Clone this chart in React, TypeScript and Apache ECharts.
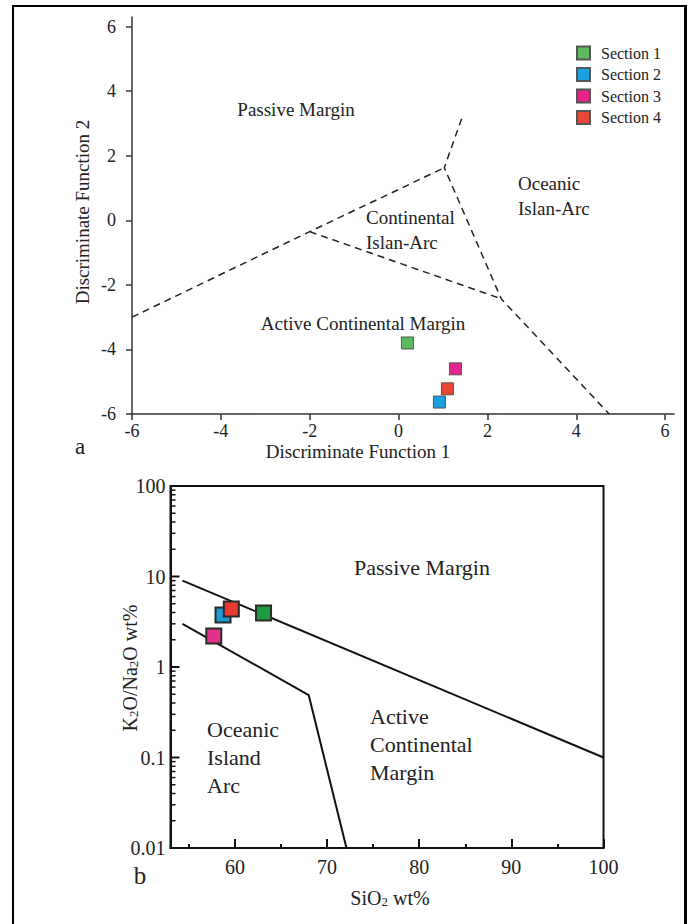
import React, { useEffect, useRef } from 'react';
import * as echarts from 'echarts';

const sections = ['Section 1', 'Section 2', 'Section 3', 'Section 4'];
const topColors = ['#5fb95f', '#1ba0e2', '#e3258d', '#e84637'];
const bottomColors = ['#1e9a3f', '#1b9bd8', '#e2338a', '#e83a30'];

// Panel a: discriminant function scores [DF1, DF2] per section
const dfPoints = [[0.2, -3.8], [0.92, -5.63], [1.28, -4.6], [1.1, -5.22]];
// Panel b: [SiO2 wt%, K2O/Na2O] per section
const sioPoints = [[63.1, 3.95], [58.7, 3.76], [57.7, 2.2], [59.6, 4.37]];

// Panel a field boundaries (dashed)
const dfBoundaryA = [[-6, -3], [-2, -0.35], [1.03, 1.63]];
const dfBoundaryB = [[1.42, 3.15], [1.03, 1.63], [2.31, -2.43], [4.74, -6]];
const dfBoundaryC = [[-2, -0.35], [2.31, -2.43]];

// Panel b field boundaries (solid)
const sioBoundaryUpper = [[54.3, 9], [100, 0.1]];
const sioBoundaryLower = [[54.3, 3], [68, 0.49], [72.1, 0.01]];

const dfTicks = [-6, -4, -2, 0, 2, 4, 6];
const sioMajorTicks = [60, 70, 80, 90, 100];
const sioMinorTicks = [55, 65, 75, 85, 95];
const ratioMajorTicks = [0.01, 0.1, 1, 10, 100];
const ratioMinorTicks = [
  0.02, 0.03, 0.04, 0.05, 0.06, 0.07, 0.08, 0.09,
  0.2, 0.3, 0.4, 0.5, 0.6, 0.7, 0.8, 0.9,
  2, 3, 4, 5, 6, 7, 8, 9,
  20, 30, 40, 50, 60, 70, 80, 90,
];

const SIO_MIN = 53;
const SIO_MAX = 100;
const FONT = 'Liberation Serif';
const INK = '#222';

function txt(text: string, x: number, y: number, size: number, align = 'center', vAlign = 'middle', lineHeight?: number, extra: any = {}) {
  return {
    type: 'text',
    x,
    y,
    silent: true,
    ...extra,
    style: {
      text,
      fontSize: size,
      fontFamily: FONT,
      fill: INK,
      align,
      verticalAlign: vAlign,
      lineHeight: lineHeight || size * 1.2,
    },
  };
}

export default function App() {
  const ref = useRef<HTMLDivElement>(null);

  useEffect(() => {
    if (!ref.current) return;
    const chart = echarts.init(ref.current, undefined, { renderer: 'svg' });

    const axisLineStyle = { color: '#333', width: 1.5 };
    const boxLine = { color: '#111', width: 2 };

    const series: any[] = [];
    [dfBoundaryA, dfBoundaryB, dfBoundaryC].forEach((d, i) => {
      series.push({
        type: 'line',
        name: 'boundary-a-' + i,
        xAxisIndex: 0,
        yAxisIndex: 0,
        data: d,
        symbol: 'none',
        silent: true,
        z: 2,
        lineStyle: { color: '#222', width: 1.5, type: [7, 5] },
      });
    });
    sections.forEach((name, i) => {
      series.push({
        type: 'scatter',
        name,
        xAxisIndex: 0,
        yAxisIndex: 0,
        data: [dfPoints[i]],
        symbol: 'rect',
        symbolSize: 12,
        z: 4,
        itemStyle: { color: topColors[i], borderColor: '#555', borderWidth: 1, opacity: 1 },
      });
    });
    [sioBoundaryUpper, sioBoundaryLower].forEach((d, i) => {
      series.push({
        type: 'line',
        name: 'boundary-b-' + i,
        xAxisIndex: 1,
        yAxisIndex: 1,
        data: d,
        symbol: 'none',
        silent: true,
        z: 2,
        lineStyle: { color: '#111', width: 2 },
      });
    });

    // tick marks for the log axis of panel b, placed through the axis scale
    const yTickData = [
      ...ratioMajorTicks.map((v) => [SIO_MIN, v, 9]),
      ...ratioMinorTicks.map((v) => [SIO_MIN, v, 5]),
    ];
    series.push({
      type: 'custom',
      name: 'ratio-ticks',
      xAxisIndex: 1,
      yAxisIndex: 1,
      silent: true,
      z: 3,
      clip: false,
      data: yTickData,
      renderItem: (params: any, api: any) => {
        const p = api.coord([api.value(0), api.value(1)]);
        const len = api.value(2);
        return {
          type: 'line',
          shape: { x1: p[0], y1: p[1], x2: p[0] + len, y2: p[1] },
          style: { stroke: '#111', lineWidth: len > 6 ? 2 : 1.5 },
        };
      },
    });

    sections.forEach((name, i) => {
      series.push({
        type: 'scatter',
        name,
        xAxisIndex: 1,
        yAxisIndex: 1,
        data: [sioPoints[i]],
        symbol: 'rect',
        symbolSize: 15,
        z: 4,
        itemStyle: { color: bottomColors[i], borderColor: '#2a2a2a', borderWidth: 2, opacity: 1 },
      });
    });

    const option: any = {
      animation: false,
      backgroundColor: '#ffffff',
      textStyle: { fontFamily: FONT, color: INK },
      legend: {
        data: sections,
        orient: 'vertical',
        left: 571,
        top: 40,
        icon: 'rect',
        itemWidth: 13,
        itemHeight: 13,
        itemGap: 5.5,
        selectedMode: false,
        textStyle: { fontSize: 16, lineHeight: 16, color: INK, fontFamily: FONT, padding: [0, 0, 0, 6] },
      },
      grid: [
        { left: 132, top: 17, width: 542, height: 397 },
        { left: 170.5, top: 486, width: 433, height: 362, show: true, borderColor: '#111', borderWidth: 2, backgroundColor: 'transparent' },
      ],
      xAxis: [
        {
          gridIndex: 0, type: 'value', min: -6, max: 6.2, position: 'bottom',
          axisLine: { show: true, onZero: false, lineStyle: axisLineStyle },
          axisTick: { show: true, inside: false, length: 6, customValues: dfTicks, lineStyle: axisLineStyle },
          axisLabel: { customValues: dfTicks, margin: 8, fontSize: 18, color: INK, fontFamily: FONT },
          splitLine: { show: false },
        },
        {
          gridIndex: 1, type: 'value', min: SIO_MIN, max: SIO_MAX, position: 'bottom',
          axisLine: { show: true, onZero: false, lineStyle: boxLine },
          axisTick: { show: true, inside: true, length: 9, customValues: sioMajorTicks, lineStyle: boxLine },
          axisLabel: { customValues: sioMajorTicks, margin: 9, fontSize: 20, color: INK, fontFamily: FONT },
          splitLine: { show: false },
        },
        {
          gridIndex: 1, type: 'value', min: SIO_MIN, max: SIO_MAX, position: 'bottom',
          axisLine: { show: false, onZero: false },
          axisTick: { show: true, inside: true, length: 4, customValues: sioMinorTicks, lineStyle: boxLine },
          axisLabel: { show: false },
          splitLine: { show: false },
        },
      ],
      yAxis: [
        {
          gridIndex: 0, type: 'value', min: -6, max: 6.3, position: 'left',
          axisLine: { show: true, onZero: false, lineStyle: axisLineStyle },
          axisTick: { show: true, inside: false, length: 6, customValues: dfTicks, lineStyle: axisLineStyle },
          axisLabel: { customValues: dfTicks, margin: 16, fontSize: 18, color: INK, fontFamily: FONT },
          splitLine: { show: false },
        },
        {
          gridIndex: 1, type: 'log', logBase: 10, min: 0.01, max: 100, position: 'left',
          axisLine: { show: true, onZero: false, lineStyle: boxLine },
          axisTick: { show: false },
          axisLabel: { margin: 5, fontSize: 20, color: INK, fontFamily: FONT },
          splitLine: { show: false },
          minorTick: { show: false },
        },
      ],
      series,
      graphic: [
        // frame
        { type: 'line', silent: true, shape: { x1: 13, y1: 6, x2: 13, y2: 924 }, style: { stroke: '#000', lineWidth: 2 } },
        { type: 'line', silent: true, shape: { x1: 12, y1: 6, x2: 687, y2: 6 }, style: { stroke: '#000', lineWidth: 2 } },
        { type: 'line', silent: true, shape: { x1: 685.5, y1: 5, x2: 685.5, y2: 924 }, style: { stroke: '#000', lineWidth: 3 } },
        // panel a
        txt('Passive Margin', 296, 109, 19),
        txt('Continental\nIslan-Arc', 366, 204.5, 19, 'left', 'top', 25),
        txt('Oceanic\nIslan-Arc', 518, 170.5, 19, 'left', 'top', 25),
        txt('Active Continental Margin', 363, 323, 19),
        txt('Discriminate Function 1', 358, 451, 19),
        txt('Discriminate Function 2', 82, 212, 19, 'center', 'middle', undefined, { rotation: Math.PI / 2 }),
        txt('a', 80, 446, 23),
        // panel b
        txt('Passive Margin', 422, 567, 22),
        txt('Active\nContinental\nMargin', 370, 702, 22, 'left', 'top', 28),
        txt('Oceanic\nIsland\nArc', 207, 715, 22, 'left', 'top', 28),
        txt('b', 140, 875, 25),
        {
          type: 'text', x: 390, y: 896, silent: true,
          style: {
            text: '{n|SiO}{s|2}{n| wt%}',
            fontSize: 20, fontFamily: FONT, fill: INK, align: 'center', verticalAlign: 'middle',
            rich: {
              n: { fontSize: 20, fontFamily: FONT, fill: INK, lineHeight: 24, verticalAlign: 'bottom' },
              s: { fontSize: 13, fontFamily: FONT, fill: INK, lineHeight: 13, verticalAlign: 'bottom' },
            },
          },
        },
        {
          type: 'text', x: 128, y: 668, rotation: Math.PI / 2, silent: true,
          style: {
            text: '{n|K}{s|2}{n|O/Na}{s|2}{n|O wt%}',
            fontSize: 20, fontFamily: FONT, fill: INK, align: 'center', verticalAlign: 'middle',
            rich: {
              n: { fontSize: 20, fontFamily: FONT, fill: INK, lineHeight: 24, verticalAlign: 'bottom' },
              s: { fontSize: 13, fontFamily: FONT, fill: INK, lineHeight: 13, verticalAlign: 'bottom' },
            },
          },
        },
      ],
    };

    chart.setOption(option);
    return () => chart.dispose();
  }, []);

  return (
    <div
      ref={ref}
      style={{ position: 'absolute', left: 0, top: 0, width: 691, height: 924, background: '#fff' }}
    />
  );
}
